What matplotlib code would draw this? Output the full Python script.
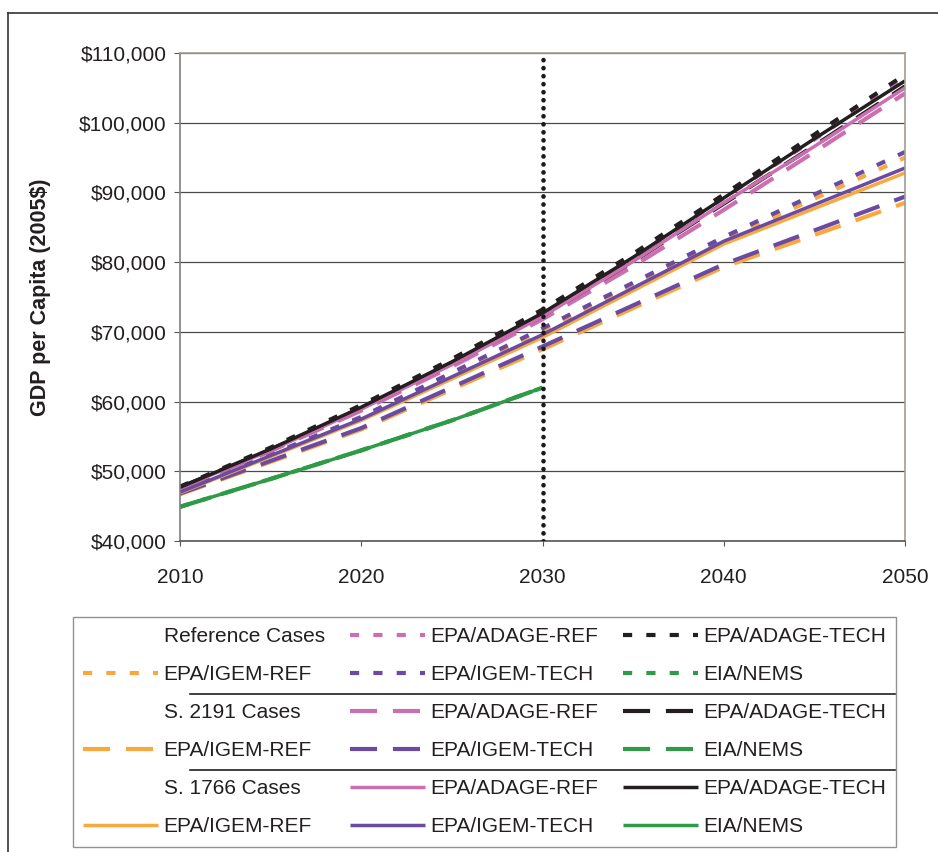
import matplotlib
matplotlib.use('Agg')
import matplotlib.pyplot as plt
from matplotlib.lines import Line2D
from matplotlib.ticker import FuncFormatter

plt.rcParams['font.family'] = ['Liberation Sans', 'DejaVu Sans']

# ---- data (GDP per capita, 2005$) ----
years_adage = [2010, 2015, 2020, 2025, 2030, 2035, 2040, 2045, 2050]
years_igem = [2010, 2020, 2030, 2040, 2050]
years_nems = [2010, 2015, 2020, 2025, 2030]

# Reference cases (dotted)
ref_adage_ref = [47700, 53200, 59200, 65700, 72800, 80700, 89200, 97600, 106300]
ref_adage_tech = [47800, 53400, 59500, 66100, 73200, 81200, 89700, 98300, 106900]
ref_igem_ref = [47000, 57600, 70200, 83200, 95000]
ref_igem_tech = [47000, 57800, 70500, 83600, 95800]
ref_nems = [44900, 48900, 53000, 57300, 62000]

# S. 2191 cases (dashed)
s2191_adage_ref = [47500, 52900, 58700, 65000, 71800, 79400, 87500, 95800, 104200]
s2191_adage_tech = [47700, 53100, 59000, 65400, 72300, 80100, 88400, 96700, 105200]
s2191_igem_ref = [46700, 56000, 67500, 79300, 88500]
s2191_igem_tech = [46800, 56200, 67900, 79700, 89400]
s2191_nems = [44900, 48900, 53000, 57300, 62000]

# S. 1766 cases (solid)
s1766_adage_ref = [47600, 53000, 58900, 65300, 72200, 80100, 88500, 96600, 105000]
s1766_adage_tech = [47700, 53200, 59200, 65700, 72700, 80700, 89200, 97700, 106000]
s1766_igem_ref = [46900, 57300, 69200, 82600, 92800]
s1766_igem_tech = [47000, 57500, 69600, 83000, 93500]
s1766_nems = [44900, 48900, 53000, 57300, 62000]

group_names = ['Reference Cases', 'S. 2191 Cases', 'S. 1766 Cases']
model_names = ['EPA/ADAGE-REF', 'EPA/ADAGE-TECH', 'EPA/IGEM-REF', 'EPA/IGEM-TECH', 'EIA/NEMS']

# colours
c_pink = '#CC6FB0'
c_black = '#231F20'
c_orange = '#F9A83E'
c_purple = '#6A4BA1'
c_green = '#2F9A47'

# line styles for each case group
dotted = (0, (2.2, 3.4))
dashed = (0, (6.5, 3.8))
solid = '-'

groups = [
    (dotted, 3.0, [ref_adage_ref, ref_adage_tech, ref_igem_ref, ref_igem_tech, ref_nems]),
    (dashed, 3.0, [s2191_adage_ref, s2191_adage_tech, s2191_igem_ref, s2191_igem_tech, s2191_nems]),
    (solid, 2.5, [s1766_adage_ref, s1766_adage_tech, s1766_igem_ref, s1766_igem_tech, s1766_nems]),
]
model_years = [years_adage, years_adage, years_igem, years_igem, years_nems]
model_colors = [c_pink, c_black, c_orange, c_purple, c_green]

fig = plt.figure(figsize=(9.38, 8.52), dpi=100)
ax = fig.add_axes([180 / 938, 1 - 541 / 852, 725 / 938, 488 / 852])

# one line per model and case group; keep them for the legend
handles = {}
for gi, (ls, lw, series) in enumerate(groups):
    for yrs, vals, col, name in zip(model_years, series, model_colors, model_names):
        line, = ax.plot(yrs, vals, color=col, linestyle=ls, linewidth=lw, solid_capstyle='butt')
        handles[(gi, name)] = line

# 2030 marker
ax.axvline(2030, color='#1a1a1a', linewidth=3.3, linestyle=(0, (0.05, 1.7)),
           dash_capstyle='round', zorder=6)

ax.set_xlim(2010, 2050)
ax.set_ylim(40000, 110000)
ax.set_xticks([2010, 2020, 2030, 2040, 2050])
ax.set_yticks(range(40000, 110001, 10000))
ax.yaxis.set_major_formatter(FuncFormatter(lambda v, p: '${:,.0f}'.format(v)))
ax.tick_params(axis='x', labelsize=15, length=3.5, pad=16, color='#555555')
ax.tick_params(axis='y', labelsize=15, length=4.5, pad=5, color='#555555')
for lab in ax.get_xticklabels() + ax.get_yticklabels():
    lab.set_color('#231F20')

ax.grid(axis='y', color='#4a4a4a', linewidth=0.9)
ax.set_axisbelow(True)
ax.spines['top'].set_color('#A59B94')
ax.spines['right'].set_color('#A59B94')
ax.spines['left'].set_color('#7f7f7f')
ax.spines['bottom'].set_color('#555555')
for s in ax.spines.values():
    s.set_linewidth(1.2)

ax.set_ylabel('GDP per Capita (2005$)', fontsize=15.5, fontweight='bold', color='#231F20')
ax.yaxis.set_label_coords((51 - 180) / 725, 0.5)

# ---- legend: 3 columns, filled column by column ----
blank = Line2D([], [], color='none')
col1, col2, col3 = [], [], []
for gi in range(len(groups)):
    col1 += [(blank, group_names[gi]), (handles[(gi, 'EPA/IGEM-REF')], 'EPA/IGEM-REF')]
    col2 += [(handles[(gi, 'EPA/ADAGE-REF')], 'EPA/ADAGE-REF'), (handles[(gi, 'EPA/IGEM-TECH')], 'EPA/IGEM-TECH')]
    col3 += [(handles[(gi, 'EPA/ADAGE-TECH')], 'EPA/ADAGE-TECH'), (handles[(gi, 'EIA/NEMS')], 'EIA/NEMS')]
leg_handles = [h for h, l in col1 + col2 + col3]
leg_labels = [l for h, l in col1 + col2 + col3]

leg = fig.legend(leg_handles, leg_labels, ncol=3, loc='upper left',
                 bbox_to_anchor=(73 / 938, 1 - 617 / 852), bbox_transform=fig.transFigure,
                 borderaxespad=0, fontsize=15, handlelength=3.6, handletextpad=0.25,
                 columnspacing=1.2, labelspacing=0.91, borderpad=0.5,
                 frameon=True, fancybox=False, edgecolor='#777777')
leg.get_frame().set_linewidth(1.0)
for t in leg.get_texts():
    t.set_color('#231F20')

# separator lines between case groups (drawn above the legend box)
for ypix in [694, 770]:
    fig.add_artist(Line2D([190 / 938, 895 / 938], [1 - ypix / 852] * 2,
                          transform=fig.transFigure, color=c_black, linewidth=1.2, zorder=10))

# outer frame (left and top edges)
fig.add_artist(Line2D([8 / 938, 8 / 938], [0, 1 - 13 / 852], transform=fig.transFigure,
                      color='#333333', linewidth=1.2))
fig.add_artist(Line2D([8 / 938, 1], [1 - 13 / 852] * 2, transform=fig.transFigure,
                      color='#333333', linewidth=1.2))

fig.savefig('out.png', dpi=100)
